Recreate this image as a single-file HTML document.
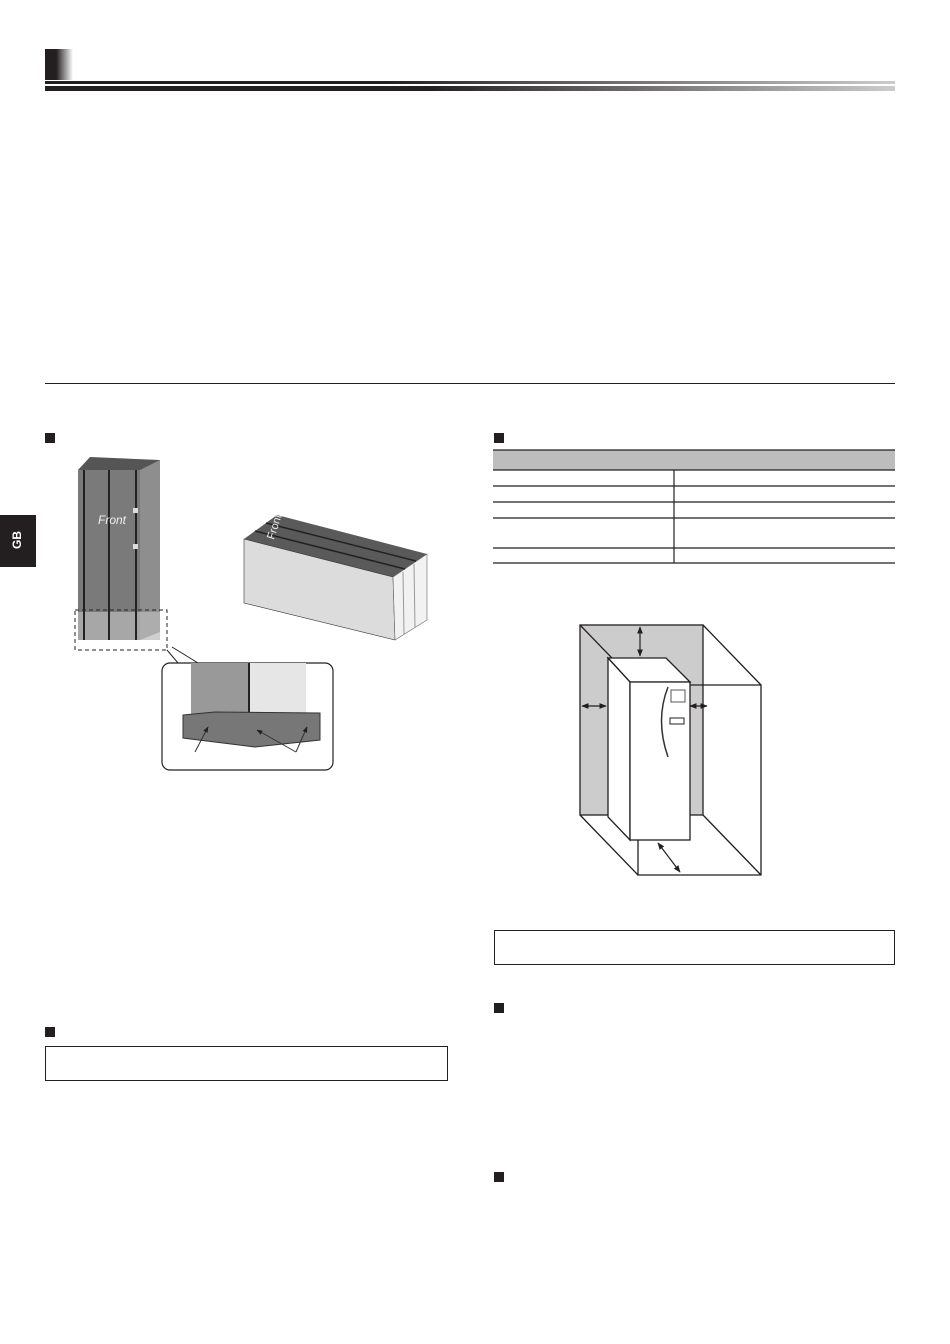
<!DOCTYPE html>
<html><head><meta charset="utf-8"><style>
body{margin:0;width:950px;height:1344px;background:#fff;position:relative;overflow:hidden;font-family:"Liberation Sans",sans-serif}
.a{position:absolute}
.sq{position:absolute;width:10px;height:10px;background:#231f20}
</style></head><body>
<div class="a" style="left:45px;top:49px;width:28px;height:31px;background:linear-gradient(90deg,#231f20 40%,#fff)"></div>
<div class="a" style="left:45px;top:81px;width:850px;height:3px;background:linear-gradient(90deg,#231f20 40%,#ccc)"></div>
<div class="a" style="left:45px;top:86px;width:850px;height:5px;background:linear-gradient(90deg,#231f20 45%,#ccc)"></div>
<div class="a" style="left:45px;top:383px;width:850px;height:1px;background:#231f20"></div>
<div class="a" style="left:0;top:515px;width:36px;height:52px;background:#231f20"></div>
<div class="a" style="left:8px;top:533px;color:#fff;font-weight:bold;font-size:12px;transform:rotate(-90deg)">GB</div>
<div class="sq" style="left:45px;top:433px"></div>
<div class="sq" style="left:494px;top:433px"></div>
<div class="sq" style="left:45px;top:1027px"></div>
<div class="sq" style="left:494px;top:1003px"></div>
<div class="sq" style="left:494px;top:1172px"></div>
<div class="a" style="left:45px;top:1046px;width:401px;height:33px;border:1.5px solid #231f20"></div>
<div class="a" style="left:494px;top:930px;width:399px;height:33px;border:1.5px solid #231f20"></div>
<svg class="a" style="left:0;top:0" width="950" height="1344">
<defs><marker id="ar" viewBox="0 0 10 10" refX="9" refY="5" markerWidth="6" markerHeight="6" orient="auto-start-reverse"><path d="M0,1 L10,5 L0,9z" fill="#231f20"/></marker></defs>
<!-- table -->
<rect x="493" y="450" width="402" height="20" fill="#bdbdbd"/>
<g stroke="#231f20" stroke-width="1.2">
<line x1="493" y1="450" x2="895" y2="450"/><line x1="493" y1="470" x2="895" y2="470"/>
<line x1="493" y1="486" x2="895" y2="486"/><line x1="493" y1="502" x2="895" y2="502"/>
<line x1="493" y1="518" x2="895" y2="518"/><line x1="493" y1="548" x2="895" y2="548"/>
<line x1="493" y1="563" x2="895" y2="563"/><line x1="674" y1="470" x2="674" y2="563"/>
</g>
<!-- tower -->
<polygon points="78,470 90,457 160,460 148,470" fill="#555"/>
<rect x="78" y="470" width="62" height="170" fill="#7a7a7a"/>
<polygon points="140,470 160,460 160,632 140,640" fill="#8e8e8e"/>
<rect x="78" y="612" width="82" height="28" fill="#bbb" opacity=".7"/>
<g stroke="#222" stroke-width="2"><line x1="84" y1="470" x2="84" y2="640"/><line x1="109" y1="470" x2="109" y2="640"/><line x1="136" y1="470" x2="136" y2="640"/></g>
<rect x="133" y="508" width="5" height="5" fill="#ddd"/><rect x="133" y="544" width="5" height="5" fill="#ddd"/>
<text x="98" y="524" fill="#eee" font-size="12" font-style="italic">Front</text>
<rect x="75" y="610" width="92" height="40" fill="none" stroke="#222" stroke-dasharray="4,3"/>
<!-- horizontal box -->
<polygon points="244,539 277,515 427,554 393,577" fill="#5a5a5a"/>
<polygon points="244,539 393,577 395,640 244,603" fill="#dcdcdc" stroke="#333" stroke-width=".6"/>
<polygon points="393,577 427,554 427,620 395,640" fill="#f2f2f2" stroke="#666" stroke-width=".6"/>
<g stroke="#999" stroke-width="1"><line x1="403" y1="572" x2="404" y2="634"/><line x1="414" y1="564" x2="415" y2="628"/></g>
<g stroke="#222" stroke-width="1.5"><line x1="255" y1="531" x2="405" y2="569"/><line x1="266" y1="523" x2="416" y2="561"/></g>
<text x="262" y="540" fill="#eee" font-size="11" transform="rotate(-72 268 532)">Front</text>
<!-- callout -->
<polyline points="167,650 178,663 190,663" fill="none" stroke="#222"/><polyline points="172,647 198,663" fill="none" stroke="#222"/>
<rect x="162" y="663" width="171" height="107" rx="8" fill="none" stroke="#222" stroke-width="1.2"/>
<rect x="191" y="663" width="58" height="60" fill="#999"/>
<rect x="249" y="663" width="57" height="60" fill="#e6e6e6"/>
<line x1="249" y1="663" x2="249" y2="725" stroke="#222" stroke-width="2"/>
<polygon points="183,715 215,712 320,713 320,740 255,747 183,738" fill="#777" stroke="#333"/>
<g stroke="#333"><line x1="195" y1="752" x2="208" y2="727" marker-end="url(#ar)"/><line x1="296" y1="752" x2="257" y2="730" marker-end="url(#ar)"/><line x1="296" y1="752" x2="307" y2="727" marker-end="url(#ar)"/></g>
<!-- clearance -->
<rect x="580" y="625" width="123" height="190" fill="#ccc"/>
<g stroke="#231f20" stroke-width="1.3" fill="none">
<rect x="580" y="625" width="123" height="190"/>
<line x1="580" y1="625" x2="638" y2="685"/><line x1="703" y1="625" x2="761" y2="685"/>
<line x1="580" y1="815" x2="638" y2="875"/><line x1="703" y1="815" x2="761" y2="875"/>
<polyline points="690,685 761,685 761,875 638,875 638,840"/>
</g>
<polygon points="608,658 666,658 690,682 630,682" fill="#fff" stroke="#231f20" stroke-width="1.3"/>
<polygon points="608,658 630,682 630,840 608,817" fill="#fff" stroke="#231f20" stroke-width="1.3"/>
<rect x="630" y="682" width="60" height="158" fill="#fff" stroke="#231f20" stroke-width="1.3"/>
<rect x="671" y="690" width="14" height="12" fill="none" stroke="#555"/><rect x="670" y="718" width="14" height="6" fill="none" stroke="#231f20"/>
<path d="M668,687 Q655,720 668,757" fill="none" stroke="#333" stroke-width="1.5"/>
<g stroke="#231f20" stroke-width="1.2" marker-start="url(#ar)" marker-end="url(#ar)"><line x1="640" y1="627" x2="640" y2="656"/><line x1="582" y1="706" x2="606" y2="706"/><line x1="690" y1="706" x2="707" y2="706"/><line x1="658" y1="843" x2="680" y2="872"/></g>
</svg>
</body></html>
